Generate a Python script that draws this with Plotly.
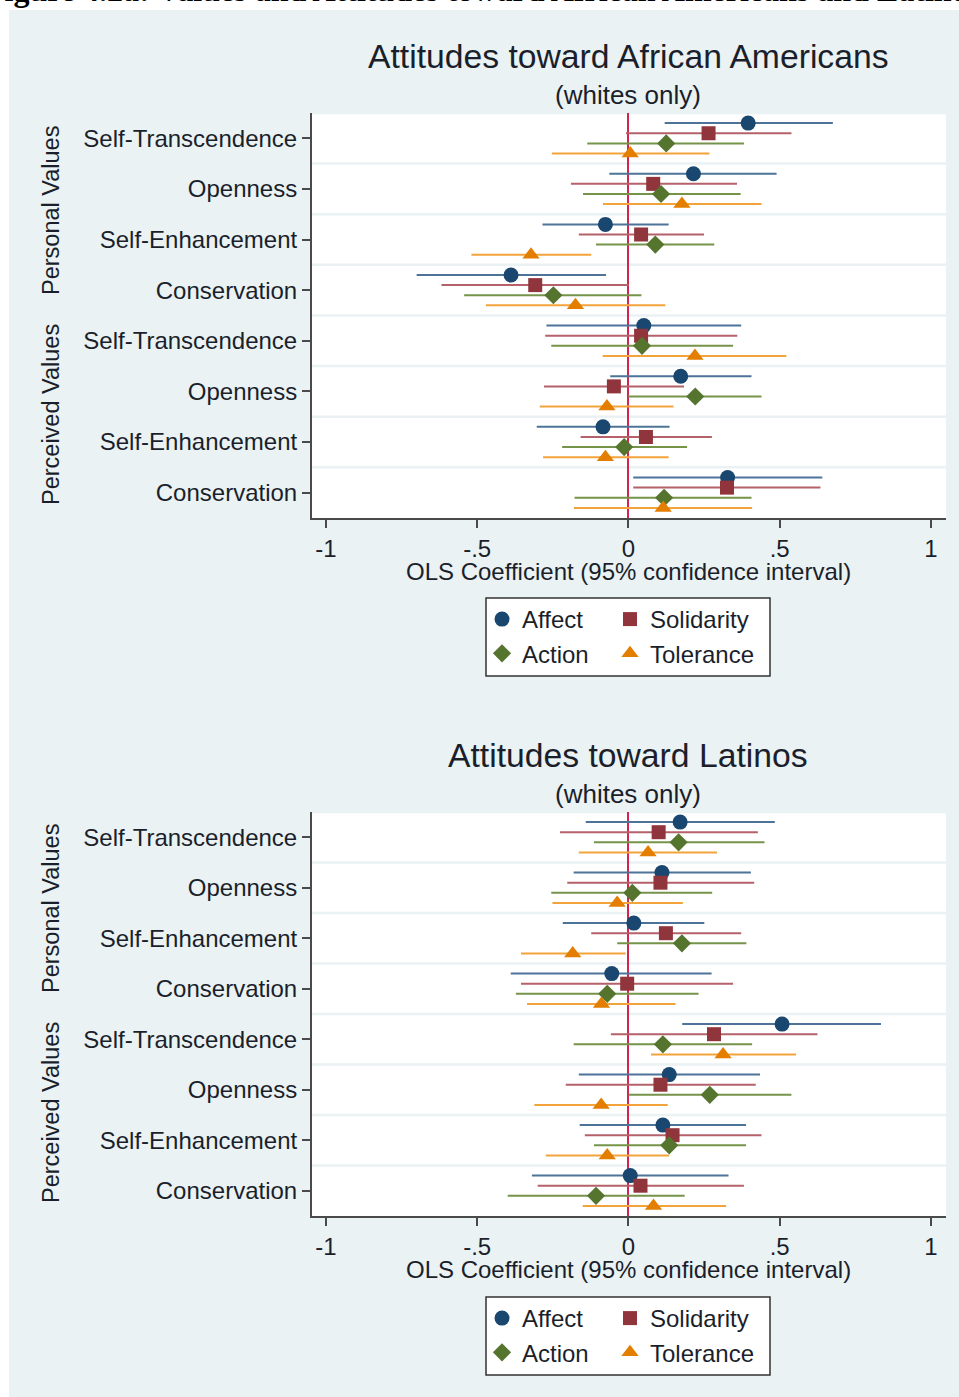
import plotly.graph_objects as go

# ---------------- data ----------------
categories = ["Self-Transcendence", "Openness", "Self-Enhancement", "Conservation",
              "Self-Transcendence", "Openness", "Self-Enhancement", "Conservation"]
x_tickvals = [-1, -0.5, 0, 0.5, 1]
x_ticktext = ["-1", "-.5", "0", ".5", "1"]
series_names = ["Affect", "Solidarity", "Action", "Tolerance"]

# Panel 1: Attitudes toward African Americans
affect_aa = [0.396, 0.215, -0.076, -0.388, 0.051, 0.173, -0.084, 0.328]
affect_aa_lo = [0.120, -0.063, -0.284, -0.700, -0.271, -0.060, -0.303, 0.016]
affect_aa_hi = [0.676, 0.490, 0.133, -0.074, 0.373, 0.407, 0.136, 0.641]
solid_aa = [0.265, 0.082, 0.042, -0.308, 0.042, -0.048, 0.058, 0.326]
solid_aa_lo = [-0.008, -0.190, -0.164, -0.618, -0.275, -0.279, -0.158, 0.016]
solid_aa_hi = [0.539, 0.359, 0.250, 0.001, 0.360, 0.184, 0.276, 0.635]
action_aa = [0.125, 0.108, 0.089, -0.248, 0.045, 0.221, -0.014, 0.118]
action_aa_lo = [-0.136, -0.150, -0.107, -0.543, -0.255, 0.000, -0.219, -0.178]
action_aa_hi = [0.382, 0.371, 0.284, 0.043, 0.346, 0.440, 0.194, 0.407]
toler_aa = [0.006, 0.177, -0.322, -0.175, 0.220, -0.071, -0.076, 0.115]
toler_aa_lo = [-0.253, -0.084, -0.519, -0.471, -0.085, -0.293, -0.282, -0.180]
toler_aa_hi = [0.268, 0.440, -0.123, 0.122, 0.522, 0.149, 0.133, 0.409]

# Panel 2: Attitudes toward Latinos
affect_la = [0.171, 0.111, 0.018, -0.055, 0.508, 0.135, 0.114, 0.006]
affect_la_lo = [-0.141, -0.181, -0.217, -0.389, 0.178, -0.164, -0.161, -0.319]
affect_la_hi = [0.484, 0.405, 0.251, 0.275, 0.835, 0.435, 0.389, 0.331]
solid_la = [0.100, 0.106, 0.124, -0.004, 0.283, 0.106, 0.146, 0.040]
solid_la_lo = [-0.226, -0.202, -0.123, -0.355, -0.058, -0.207, -0.144, -0.300]
solid_la_hi = [0.428, 0.416, 0.373, 0.346, 0.625, 0.421, 0.440, 0.382]
action_la = [0.166, 0.013, 0.177, -0.070, 0.114, 0.269, 0.135, -0.107]
action_la_lo = [-0.114, -0.255, -0.037, -0.372, -0.181, 0.001, -0.114, -0.399]
action_la_hi = [0.450, 0.277, 0.390, 0.232, 0.409, 0.539, 0.389, 0.186]
toler_la = [0.065, -0.037, -0.184, -0.089, 0.313, -0.090, -0.070, 0.083]
toler_la_lo = [-0.164, -0.251, -0.355, -0.335, 0.075, -0.311, -0.273, -0.151]
toler_la_hi = [0.293, 0.180, -0.009, 0.156, 0.554, 0.130, 0.134, 0.323]

# ---------------- styling ----------------
W, H = 959, 1397
FONT = "Liberation Sans, Arial, sans-serif"
TXT = "#1b1f2c"
BG = "#EAF2F3"
AXC = "#4a4a4a"
marker_colors = ["#1a476f", "#90353b", "#55752f", "#e37e00"]
line_colors = ["#4d7399", "#b5616a", "#759449", "#f2a33a"]
symbols = ["circle", "square", "diamond", "triangle-up"]
sizes = [15, 14, 14, 15]
offsets = [-0.3, -0.1, 0.1, 0.3]


def px_x(p):
    return p / W


def px_y(p):
    return 1 - p / H


panels = [
    dict(xa="x", ya="y", legends=["legend", "legend2", "legend", "legend2"],
         data=[(affect_aa, affect_aa_lo, affect_aa_hi), (solid_aa, solid_aa_lo, solid_aa_hi),
               (action_aa, action_aa_lo, action_aa_hi), (toler_aa, toler_aa_lo, toler_aa_hi)]),
    dict(xa="x2", ya="y2", legends=["legend3", "legend4", "legend3", "legend4"],
         data=[(affect_la, affect_la_lo, affect_la_hi), (solid_la, solid_la_lo, solid_la_hi),
               (action_la, action_la_lo, action_la_hi), (toler_la, toler_la_lo, toler_la_hi)]),
]

fig = go.Figure()
for p in panels:
    for k, (coef, lo, hi) in enumerate(p["data"]):
        ypos = [i + 1 + offsets[k] for i in range(len(categories))]
        fig.add_trace(go.Scatter(
            x=coef, y=ypos, mode="markers", name=series_names[k],
            xaxis=p["xa"], yaxis=p["ya"], legend=p["legends"][k],
            marker=dict(symbol=symbols[k], size=sizes[k], color=marker_colors[k], line=dict(width=0)),
            error_x=dict(type="data", symmetric=False,
                         array=[h - c for h, c in zip(hi, coef)],
                         arrayminus=[c - l for c, l in zip(coef, lo)],
                         color=line_colors[k], thickness=2, width=0),
            hoverinfo="skip",
        ))

# plot areas in pixels
plot1 = dict(l=312, r=946, t=113, b=518)
plot2 = dict(l=312, r=946, t=812, b=1216)

xcommon = dict(range=[-1.046, 1.05], tickmode="array", tickvals=x_tickvals, ticktext=x_ticktext,
               ticks="outside", ticklen=8, tickwidth=2, tickcolor=AXC,
               showline=True, linecolor=AXC, linewidth=2, showgrid=False,
               zeroline=True, zerolinecolor="#d3244f", zerolinewidth=2,
               tickfont=dict(family=FONT, size=24, color=TXT), automargin=False, fixedrange=True)
ycommon = dict(range=[8.5, 0.5], tickmode="array", tickvals=list(range(1, 9)), ticktext=categories,
               ticks="outside", ticklen=8, tickwidth=2, tickcolor=AXC,
               showline=True, linecolor=AXC, linewidth=2, showgrid=False, zeroline=False,
               tickfont=dict(family=FONT, size=24, color=TXT), automargin=False, fixedrange=True)

fig.update_layout(
    width=W, height=H, margin=dict(l=0, r=0, t=0, b=0),
    paper_bgcolor=BG, plot_bgcolor="white",
    xaxis=dict(xcommon, domain=[px_x(plot1["l"]), px_x(plot1["r"])], anchor="y"),
    yaxis=dict(ycommon, domain=[px_y(plot1["b"]), px_y(plot1["t"])], anchor="x"),
    xaxis2=dict(xcommon, domain=[px_x(plot2["l"]), px_x(plot2["r"])], anchor="y2"),
    yaxis2=dict(ycommon, domain=[px_y(plot2["b"]), px_y(plot2["t"])], anchor="x2"),
    showlegend=True,
)

leg_common = dict(bgcolor="rgba(0,0,0,0)", borderwidth=0, orientation="v",
                  font=dict(family=FONT, size=24, color=TXT), traceorder="normal",
                  tracegroupgap=0, xanchor="left", yanchor="top", itemclick=False,
                  itemdoubleclick=False)
fig.update_layout(
    legend=dict(leg_common, x=px_x(482), y=px_y(597)),
    legend2=dict(leg_common, x=px_x(610), y=px_y(597)),
    legend3=dict(leg_common, x=px_x(482), y=px_y(1296)),
    legend4=dict(leg_common, x=px_x(610), y=px_y(1296)),
)

shapes = []
# white page margins (top / left) outside the graph background
shapes.append(dict(type="rect", xref="paper", yref="paper", x0=0, x1=1, y0=px_y(10), y1=1,
                   fillcolor="white", line=dict(width=0), layer="below"))
shapes.append(dict(type="rect", xref="paper", yref="paper", x0=0, x1=px_x(9), y0=0, y1=1,
                   fillcolor="white", line=dict(width=0), layer="below"))
# legend boxes
for top, bot in [(598, 676), (1297, 1375)]:
    shapes.append(dict(type="rect", xref="paper", yref="paper", x0=px_x(486), x1=px_x(770),
                       y0=px_y(bot), y1=px_y(top), fillcolor="white",
                       line=dict(color="#333333", width=1.5), layer="below"))
# row separators
for ya in ["y", "y2"]:
    for v in [0.5 + i for i in range(8)]:
        shapes.append(dict(type="line", xref=ya.replace("y", "x") + " domain", yref=ya,
                           x0=0, x1=1, y0=v, y1=v, line=dict(color=BG, width=2.5), layer="below"))
fig.update_layout(shapes=shapes)

ann = []
ann.append(dict(text="<b>Figure 4.2a: Values and Attitudes toward African Americans and Latinos</b>",
                xref="paper", yref="paper", x=px_x(-17), y=px_y(10), xanchor="left", yanchor="bottom",
                showarrow=False, font=dict(family="Liberation Serif, Times New Roman, serif", size=32, color="black")))
for (t_y, s_y, xt_y, title, g1, g2) in [
    (56, 95, 571, "Attitudes toward African Americans", 211, 415),
    (755, 794, 1269, "Attitudes toward Latinos", 909, 1113),
]:
    ann.append(dict(text=title, xref="paper", yref="paper", x=px_x(628), y=px_y(t_y),
                    xanchor="center", yanchor="middle", showarrow=False,
                    font=dict(family=FONT, size=33.7, color=TXT)))
    ann.append(dict(text="(whites only)", xref="paper", yref="paper", x=px_x(628), y=px_y(s_y),
                    xanchor="center", yanchor="middle", showarrow=False,
                    font=dict(family=FONT, size=26, color=TXT)))
    ann.append(dict(text="OLS Coefficient (95% confidence interval)", xref="paper", yref="paper",
                    x=px_x(628), y=px_y(xt_y), xanchor="center", yanchor="middle", showarrow=False,
                    font=dict(family=FONT, size=24, color=TXT)))
    for gy, gt in [(g1, "Personal Values"), (g2, "Perceived Values")]:
        ann.append(dict(text=gt, xref="paper", yref="paper", x=px_x(51), y=px_y(gy),
                        xanchor="center", yanchor="middle", textangle=-90, showarrow=False,
                        font=dict(family=FONT, size=23.5, color=TXT)))
fig.update_layout(annotations=ann)

fig.write_html("out.html", config={"displayModeBar": False},
               post_script="document.body.style.margin='0';document.body.style.overflow='hidden';")
